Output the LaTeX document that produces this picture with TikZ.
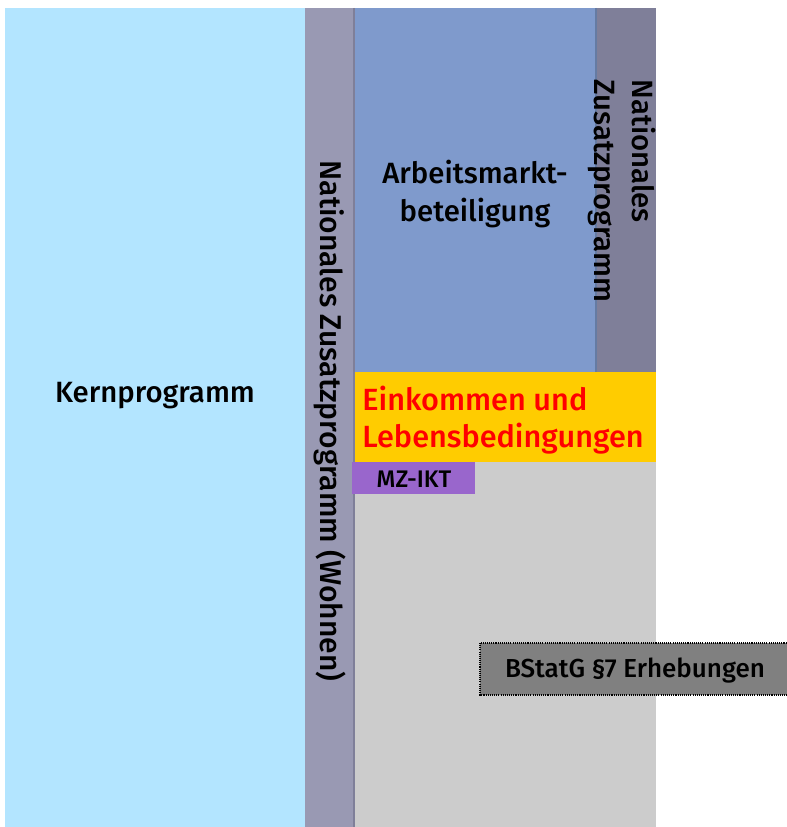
\documentclass[tikz,border=0pt]{standalone}
\usepackage{fontspec}
\setmainfont{Fira Sans Medium}
\definecolor{kernblau}{RGB}{179,229,255}
\definecolor{wohngrau}{RGB}{153,153,179}
\definecolor{trennlinie}{RGB}{127,127,153}
\definecolor{amblau}{RGB}{127,154,204}
\definecolor{natgrau}{RGB}{127,127,153}
\definecolor{silcgelb}{RGB}{255,204,0}
\definecolor{iktlila}{RGB}{153,102,204}
\definecolor{restgrau}{RGB}{204,204,204}
\definecolor{bstatgrau}{RGB}{128,128,128}
\tikzset{
    feld/.style={draw=none,line join=round},
    titel/.style={font=\fontsize{22}{29}\selectfont,black,inner sep=0pt},
}

\begin{document}
\begin{tikzpicture}[x=0.75pt,y=-0.75pt]
    \useasboundingbox (0,0) rectangle (786,827);
    \fill[feld,kernblau] (5,8) rectangle (305,827);
    \fill[feld,wohngrau] (305,8) rectangle (354,827);
    \fill[feld,restgrau] (355,8) rectangle (656,827);
    \draw[trennlinie,line width=1.5pt] (354,8) -- (354,827);
    \fill[feld,amblau] (355,8) rectangle (596,372);
    \fill[feld,natgrau] (596,8) rectangle (656,372);
    \draw[amblau!80!black,line width=1pt] (596,8) -- (596,372);
    \fill[feld,silcgelb] (355,372) rectangle (656,462);
    \fill[feld,iktlila] (352,462) rectangle (475,494);
    \draw[dash pattern=on 0.8pt off 0.8pt,black,line width=0.9pt,fill=bstatgrau] (480,643) rectangle (800,695);
    \node[titel] (kern) at (155,396) {Kernprogramm};
    \node[titel,rotate=-90,font=\fontsize{22.5}{29}\selectfont] (wohnen) at (330,421) {Nationales Zusatzprogramm (Wohnen)};
    \node[titel,align=center] (arbeit) at (475,194) {Arbeitsmarkt-\\beteiligung};
    \node[titel,rotate=-90,align=left] (national) at (622,191) {Nationales\\Zusatzprogramm};
    \node[titel,red,align=left,font=\fontsize{23}{28}\selectfont] (silc) at (503,420) {Einkommen und\\Lebensbedingungen};
    \node[titel,font=\fontsize{18}{22}\selectfont] (ikt) at (414,479) {MZ-IKT};
    \node[titel,font=\fontsize{19.5}{24}\selectfont] (bstatg) at (635,671) {BStatG §7 Erhebungen};
\end{tikzpicture}
\end{document}
